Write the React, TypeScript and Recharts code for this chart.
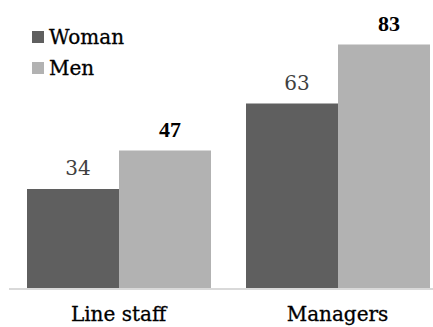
import { BarChart, Bar, XAxis, YAxis, LabelList } from "recharts";

const categories = ["Line staff", "Managers"];
const womanValues = [34, 63];
const menValues = [47, 83];

const chartData = categories.map((name, i) => ({
  name,
  Woman: womanValues[i],
  Men: menValues[i],
}));

const FONT = "'DejaVu Serif', serif";
const BOLD_FONT = "'Liberation Serif', serif";
const WOMAN_COLOR = "#5f5f5f";
const MEN_COLOR = "#b2b2b2";

const makeLabel =
  (fill: string, family: string, size: number, weight: string) =>
  (props: any) => {
    const { x, y, width, value } = props;
    return (
      <text
        x={x + width / 2 + 5}
        y={y - 14}
        textAnchor="middle"
        fontFamily={family}
        fontSize={size}
        fontWeight={weight}
        fill={fill}
      >
        {value}
      </text>
    );
  };

// category name, baseline a fixed distance under the axis line
const CategoryTick = (props: any) => {
  const { x, y, payload } = props;
  return (
    <text
      x={x}
      y={y + 26}
      textAnchor="middle"
      fontFamily={FONT}
      fontSize={20}
      fill="#000"
      stroke="#000"
      strokeWidth={0.3}
    >
      {payload.value}
    </text>
  );
};

// legend sits on top of the chart so it doesn't squeeze the plot area
const LegendBox = () => {
  const items = [
    { label: "Woman", color: WOMAN_COLOR },
    { label: "Men", color: MEN_COLOR },
  ];
  return (
    <div
      style={{
        position: "absolute",
        left: 32,
        top: 21,
        fontFamily: FONT,
        fontSize: 20,
        color: "#000",
        WebkitTextStroke: "0.3px #000",
      }}
    >
      {items.map((it) => (
        <div key={it.label} style={{ display: "flex", alignItems: "center", height: 31 }}>
          <span style={{ width: 12, height: 12, background: it.color, marginRight: 5, display: "inline-block" }} />
          <span>{it.label}</span>
        </div>
      ))}
    </div>
  );
};

export default function App() {
  return (
    <div style={{ position: "absolute", left: 0, top: 0, width: 433, height: 327, overflow: "hidden", background: "#fff" }}>
      <BarChart
        width={447}
        height={327}
        data={chartData}
        margin={{ top: 24, right: 0, left: 9, bottom: 8 }}
        barSize={92}
        barGap={0}
      >
        <XAxis
          dataKey="name"
          height={30}
          tickLine={false}
          axisLine={{ stroke: "#d9d9d9", strokeWidth: 2 }}
          tick={<CategoryTick />}
          tickMargin={0}
        />
        <YAxis hide domain={[0, 90]} />
        <Bar dataKey="Woman" fill={WOMAN_COLOR} isAnimationActive={false}>
          <LabelList dataKey="Woman" content={makeLabel("#404040", FONT, 20, "normal")} />
        </Bar>
        <Bar dataKey="Men" fill={MEN_COLOR} isAnimationActive={false}>
          <LabelList dataKey="Men" content={makeLabel("#000", BOLD_FONT, 22, "bold")} />
        </Bar>
      </BarChart>
      <LegendBox />
    </div>
  );
}
